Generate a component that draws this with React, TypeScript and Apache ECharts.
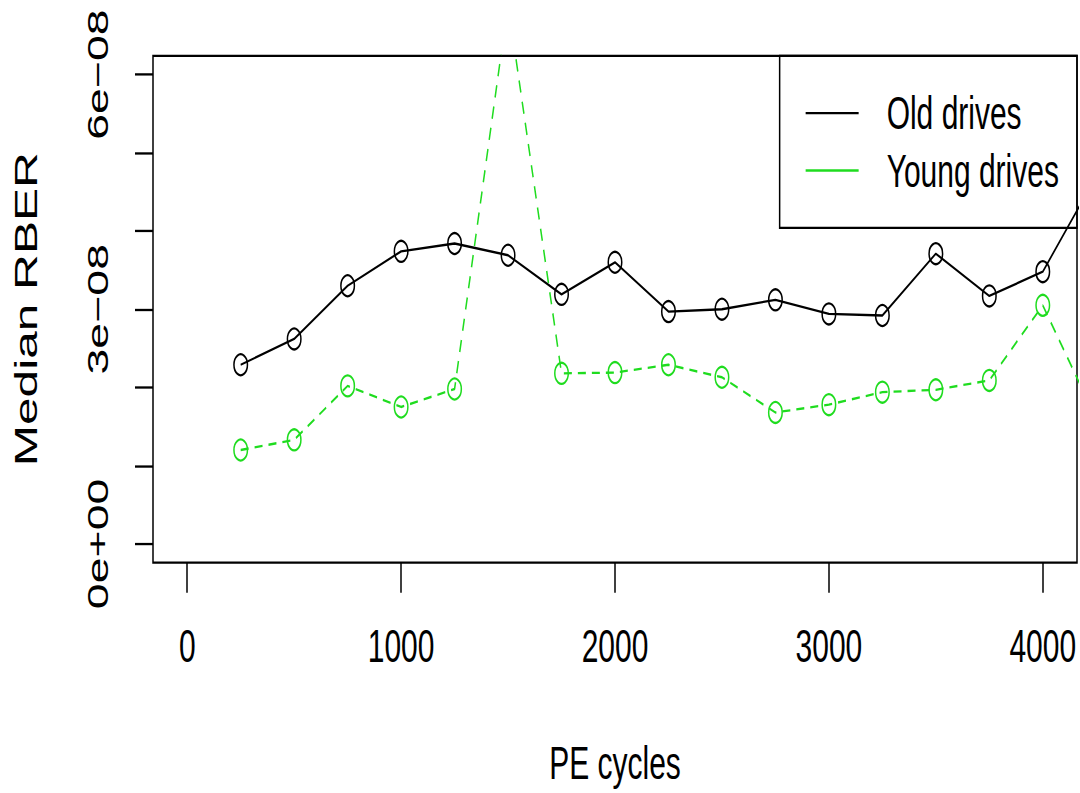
import { useEffect, useRef } from "react";
import * as echarts from "echarts";

// Median raw bit error rate per program/erase cycle bucket
const peCycles = [250, 500, 750, 1000, 1250, 1500, 1750, 2000, 2250, 2500, 2750, 3000, 3250, 3500, 3750, 4000, 4250];
const oldDrives = [
  2.29e-8, 2.62e-8, 3.3e-8, 3.74e-8, 3.84e-8, 3.69e-8, 3.19e-8, 3.6e-8, 2.97e-8,
  3.0e-8, 3.12e-8, 2.94e-8, 2.92e-8, 3.71e-8, 3.17e-8, 3.48e-8, 4.7e-8,
];
const youngDrives = [
  1.2e-8, 1.33e-8, 2.02e-8, 1.75e-8, 1.98e-8, 6.9e-8, 2.18e-8, 2.19e-8, 2.29e-8,
  2.13e-8, 1.68e-8, 1.78e-8, 1.94e-8, 1.97e-8, 2.09e-8, 3.05e-8, 1.6e-8,
];
const seriesNames = ["Old drives", "Young drives"];

const xTickValues = [0, 1000, 2000, 3000, 4000];
const yTickValues = [0, 1e-8, 2e-8, 3e-8, 4e-8, 5e-8, 6e-8];
const yLabelValues = [0, 3e-8, 6e-8];
const yLabelTexts = ["0e+00", "3e\u221208", "6e\u221208"];

// The figure is drawn at a reduced height and stretched vertically.
const STRETCH = 1.55;
const WIDTH = 1080;
const HEIGHT = 793;
const FONT = "'Liberation Sans', Arial, Helvetica, sans-serif";
const BLACK = "#000000";
const GREEN = "#1fdc1f";

export default function App() {
  const ref = useRef<HTMLDivElement>(null);

  useEffect(() => {
    if (!ref.current) return;
    const chart = echarts.init(ref.current, undefined, { renderer: "svg" });
    const toPairs = (ys: number[]) => peCycles.map((x, i) => [x, ys[i]]);

    chart.setOption({
      animation: false,
      backgroundColor: "#ffffff",
      textStyle: { fontFamily: FONT },
      grid: {
        left: 153,
        right: 3,
        top: 36,
        bottom: HEIGHT / STRETCH - 363.4,
        show: true,
        borderColor: BLACK,
        borderWidth: 1.5,
        backgroundColor: "transparent",
      },
      legend: {
        orient: "vertical",
        right: 3,
        top: 36,
        padding: [22, 18, 22, 26],
        itemWidth: 53,
        itemHeight: 1.5,
        itemGap: 7,
        borderColor: BLACK,
        borderWidth: 1.5,
        selectedMode: false,
        textStyle: { fontSize: 30, color: BLACK, fontFamily: FONT, padding: [0, 0, 0, 23] },
        data: [
          { name: seriesNames[0], icon: "rect", itemStyle: { color: BLACK, borderWidth: 0 } },
          { name: seriesNames[1], icon: "rect", itemStyle: { color: GREEN, borderWidth: 0 } },
        ],
      },
      xAxis: {
        type: "value",
        min: -160,
        max: 4160,
        name: "PE cycles",
        nameLocation: "middle",
        nameGap: 114,
        nameTextStyle: { fontSize: 30, color: BLACK, fontFamily: FONT },
        axisLine: { show: false, onZero: false },
        splitLine: { show: false },
        axisTick: {
          show: true,
          length: 19.4,
          customValues: xTickValues,
          lineStyle: { color: BLACK, width: 1.5 },
        },
        axisLabel: {
          customValues: xTickValues,
          margin: 39,
          fontSize: 30,
          color: BLACK,
          fontFamily: FONT,
          formatter: (v: number) => String(v),
        },
      },
      yAxis: {
        type: "value",
        min: -0.24e-8,
        max: 6.24e-8,
        name: "Median RBER",
        nameLocation: "middle",
        nameRotate: 90,
        nameGap: 111,
        nameTextStyle: { fontSize: 32, color: BLACK, fontFamily: FONT },
        axisLine: { show: false, onZero: false },
        splitLine: { show: false },
        axisTick: {
          show: true,
          length: 18,
          customValues: yTickValues,
          lineStyle: { color: BLACK, width: 1.5 },
        },
        axisLabel: {
          customValues: yLabelValues,
          rotate: 90,
          margin: 40,
          fontSize: 30,
          color: BLACK,
          fontFamily: FONT,
          formatter: (v: number) => {
            const i = yLabelValues.findIndex((t) => Math.abs(t - v) < 1e-12);
            return i >= 0 ? yLabelTexts[i] : "";
          },
        },
      },
      series: [
        {
          name: seriesNames[0],
          type: "line",
          data: toPairs(oldDrives),
          clip: true,
          symbol: "circle",
          symbolSize: 13.5,
          lineStyle: { color: BLACK, width: 1.5, type: "solid" },
          itemStyle: { color: "rgba(0,0,0,0)", borderColor: BLACK, borderWidth: 1.5 },
          emphasis: { disabled: true },
          z: 3,
        },
        {
          name: seriesNames[1],
          type: "line",
          data: toPairs(youngDrives),
          clip: true,
          symbol: "circle",
          symbolSize: 13.5,
          lineStyle: { color: GREEN, width: 1.5, type: [8, 6] },
          itemStyle: { color: "rgba(0,0,0,0)", borderColor: GREEN, borderWidth: 1.5 },
          emphasis: { disabled: true },
          z: 2,
        },
      ],
    });

    return () => chart.dispose();
  }, []);

  return (
    <div
      ref={ref}
      style={{
        position: "absolute",
        left: 0,
        top: 0,
        width: WIDTH,
        height: HEIGHT / STRETCH,
        transform: `scaleY(${STRETCH})`,
        transformOrigin: "0 0",
      }}
    />
  );
}
